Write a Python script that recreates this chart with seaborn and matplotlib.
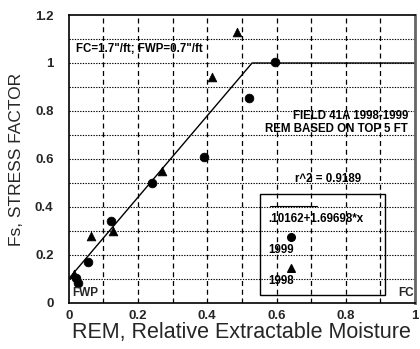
import matplotlib
matplotlib.use("Agg")
import matplotlib.pyplot as plt
import seaborn as sns
import numpy as np
import pandas as pd
from matplotlib.patches import Rectangle

# Data
rem_1999 = [0.020, 0.027, 0.055, 0.122, 0.240, 0.390, 0.520, 0.595]
fs_1999 = [0.105, 0.085, 0.170, 0.340, 0.500, 0.610, 0.855, 1.005]
rem_1998 = [0.015, 0.063, 0.128, 0.270, 0.414, 0.486]
fs_1998 = [0.120, 0.280, 0.300, 0.550, 0.940, 1.130]
fit_x = [0.0, 0.5294, 1.0]
fit_y = [0.10162, 1.0, 1.0]
x_ticks = [0, 0.2, 0.4, 0.6, 0.8, 1]
x_tick_labels = ["0", "0.2", "0.4", "0.6", "0.8", "1"]
y_ticks = [0, 0.2, 0.4, 0.6, 0.8, 1, 1.2]
y_tick_labels = ["0", "0.2", "0.4", "0.6", "0.8", "1", "1.2"]

sns.set_style("white")
plt.rcParams['font.family'] = ['Liberation Sans', 'DejaVu Sans']

fig = plt.figure(figsize=(4.2, 3.49), dpi=100)
ax = fig.add_axes([0.164, 0.132, 0.824, 0.825])

df99 = pd.DataFrame({"REM": rem_1999, "Fs": fs_1999})
df98 = pd.DataFrame({"REM": rem_1998, "Fs": fs_1998})
dffit = pd.DataFrame({"REM": fit_x, "Fs": fit_y})

# grid
for v in np.arange(0.1, 1.0, 0.1):
    ax.axvline(v, color="black", lw=0.9, ls=(0, (4, 3)), zorder=0)
for v in np.arange(0.1, 1.2, 0.1):
    ax.axhline(v, color="black", lw=0.8, ls=(0, (1.2, 1.2)), zorder=0)

sns.lineplot(data=dffit, x="REM", y="Fs", ax=ax, color="black", lw=1.0, zorder=2)
sns.scatterplot(data=df99, x="REM", y="Fs", ax=ax, marker="o", s=40,
                color="black", edgecolor="black", zorder=3)
sns.scatterplot(data=df98, x="REM", y="Fs", ax=ax, marker="^", s=40,
                color="black", edgecolor="black", zorder=3)

ax.set_xlim(0, 1)
ax.set_ylim(0, 1.2)
ax.set_xticks(x_ticks)
ax.set_xticklabels(x_tick_labels, fontsize=9.5, fontweight="bold")
ax.set_yticks(y_ticks)
ax.set_yticklabels(y_tick_labels, fontsize=9.5, fontweight="bold")
ax.tick_params(axis="x", length=0, pad=5)
ax.tick_params(axis="y", length=0, pad=11)
ax.set_xlabel("REM, Relative Extractable Moisture", fontsize=15.5,
              fontweight="normal", labelpad=0)
ax.set_ylabel("Fs, STRESS FACTOR", fontsize=12.5, fontweight="normal", labelpad=8)
for s in ax.spines.values():
    s.set_color("black")
    s.set_linewidth(1.2)
ax.spines["right"].set_color("#666666")
ax.spines["right"].set_linewidth(2)

tk = dict(fontsize=8.3, fontweight="bold", color="black")
ax.text(0.022, 1.06, "FC=1.7\"/ft; FWP=0.7\"/ft", ha="left", va="center", **tk)
ax.text(0.98, 0.78, "FIELD 41A 1998-1999", ha="right", va="center", **tk)
ax.text(0.98, 0.725, "REM BASED ON TOP 5 FT", ha="right", va="center", **tk)
ax.text(0.75, 0.515, "r^2 = 0.9189", ha="center", va="center", **tk)
ax.text(0.01, 0.04, "FWP", ha="left", va="center", fontsize=8.5, fontweight="bold")
ax.text(0.997, 0.04, "FC", ha="right", va="center", fontsize=8.5, fontweight="bold")

# legend box
ax.add_patch(Rectangle((0.552, 0.035), 0.36, 0.42, fill=False, lw=1.0,
                       edgecolor="black", zorder=4))
ax.plot([0.582, 0.718], [0.403, 0.403], color="black", lw=0.8, zorder=4)
ax.text(0.575, 0.35, ".10162+1.69698*x", ha="left", va="center", **tk)
ax.scatter([0.643], [0.275], marker="o", s=30, color="black", zorder=4)
ax.text(0.575, 0.222, "1999", ha="left", va="center", **tk)
ax.scatter([0.643], [0.146], marker="^", s=30, color="black", zorder=4)
ax.text(0.575, 0.092, "1998", ha="left", va="center", **tk)

fig.savefig("out.png", dpi=100)
